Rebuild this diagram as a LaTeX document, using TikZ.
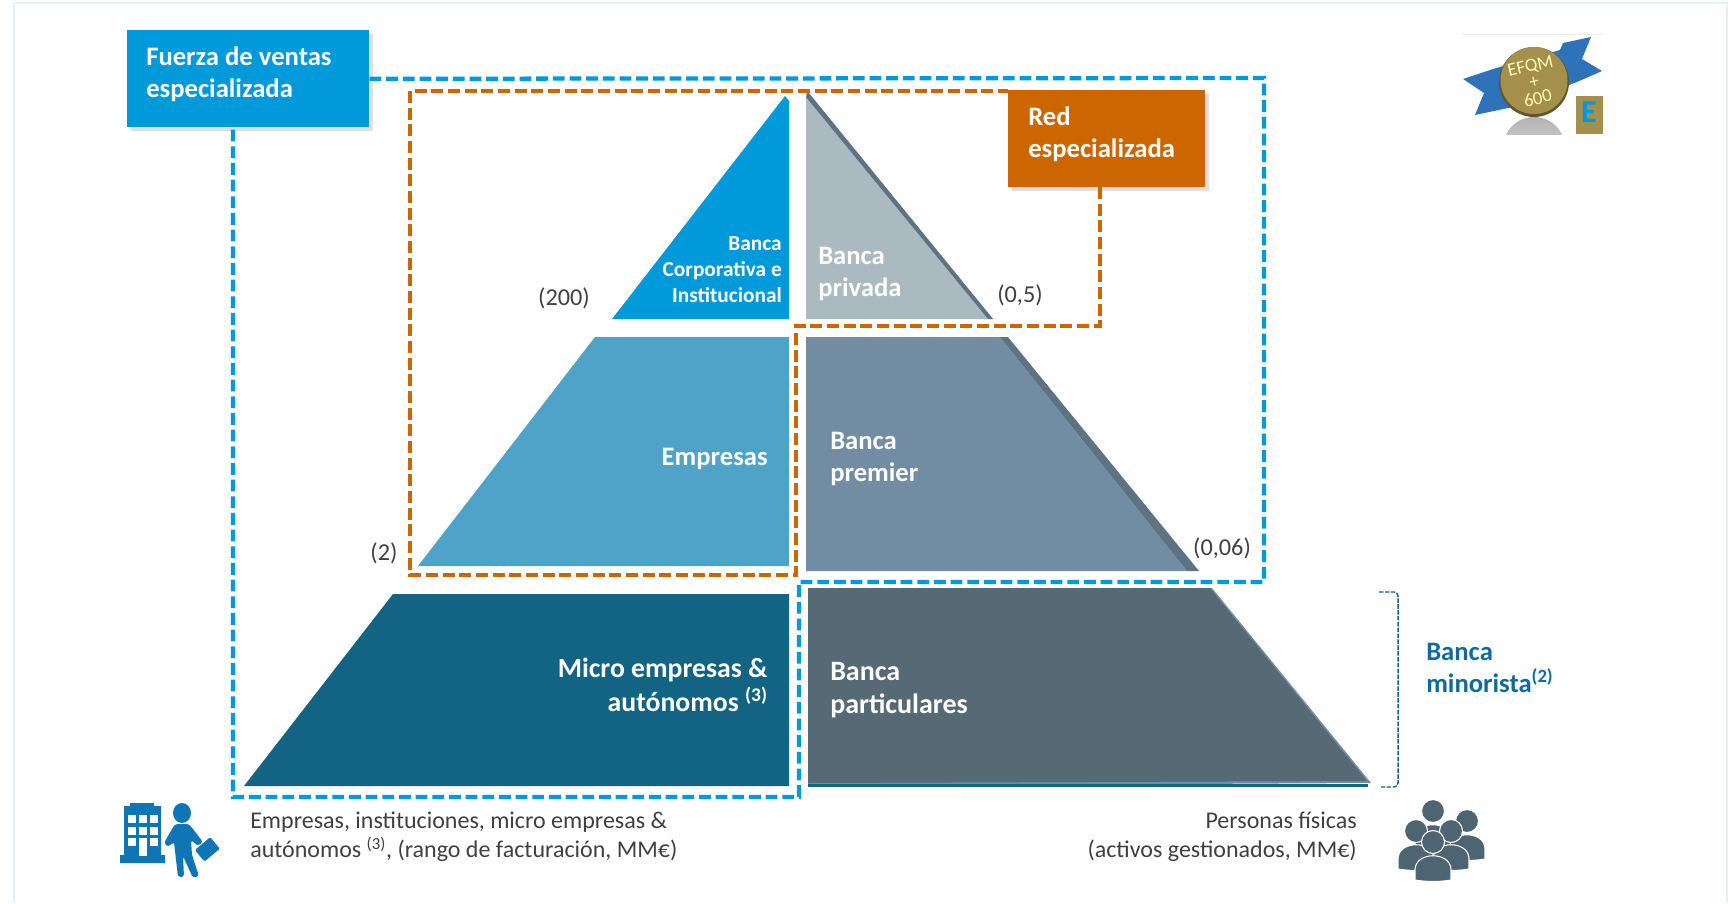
\documentclass[tikz,border=0pt]{standalone}
\usepackage{fontspec}
\setmainfont{Carlito}
\usetikzlibrary{shadows,shapes.geometric}
\definecolor{ventasblue}{HTML}{009ADA}
\definecolor{redorange}{HTML}{CC6600}
\definecolor{empresablue}{HTML}{4FA3C9}
\definecolor{microblue}{HTML}{136385}
\definecolor{privadagray}{HTML}{ABB9C0}
\definecolor{premierblue}{HTML}{718CA3}
\definecolor{partgray}{HTML}{566A75}
\definecolor{edgegray}{HTML}{5D7384}
\definecolor{inkgray}{HTML}{404040}
\definecolor{minorblue}{HTML}{0F6A9F}
\definecolor{iconblue}{HTML}{0F75B5}
\definecolor{icongray}{HTML}{4D6472}
\definecolor{medalgold}{HTML}{A58F4C}
\definecolor{ribbonblue}{HTML}{2E72BA}
\tikzset{
  labelbox/.style  = {rectangle, inner sep=0pt, anchor=north west,
                      drop shadow={shadow xshift=3pt, shadow yshift=-3pt, opacity=.25}},
  boxtext/.style   = {text=white, align=left, anchor=west, inner sep=0pt,
                      font=\fontsize{20}{24}\selectfont\bfseries},
  tiertext/.style  = {boxtext},
  tierright/.style = {boxtext, align=right, anchor=east},
  amount/.style    = {text=inkgray, inner sep=0pt, font=\fontsize{18.2}{22}\selectfont},
  axistext/.style  = {amount, anchor=west, align=left, font=\fontsize{18}{21.5}\selectfont},
  medaltext/.style = {inner sep=0pt, align=center, text=yellow!30!white, font=\fontsize{14}{12.4}\selectfont},
  dashframe/.style = {line width=3.2pt, line join=miter, dash pattern=on 8.9pt off 3.6pt}
}
\begin{document}
\begin{tikzpicture}[x=0.75pt,y=-0.75pt]
  \useasboundingbox (0,0) rectangle (1734,903);
  \draw[line width=1.5pt, color=ventasblue!12] (14,903) -- (14,3) -- (1727,3) -- (1727,903);

  % left half of the pyramid
  \fill[ventasblue]  (785,96) -- (789,101) -- (789,319) -- (612,319) -- cycle;
  \fill[empresablue] (595,337) -- (789,337) -- (789,566) -- (418,566) -- cycle;
  \fill[microblue]   (393,594) -- (789,594) -- (789,786) -- (244,786) -- cycle;

  % right half of the pyramid
  \fill[privadagray] (806,92) -- (808,92) -- (993,319) -- (806,319) -- cycle;
  \fill[edgegray]    (808,92) -- (993,319) -- (988,319) -- (806,97) -- cycle;
  \fill[premierblue] (806,337) -- (1000,337) -- (1187,571) -- (806,571) -- cycle;
  \fill[edgegray]    (1000,337) -- (1008,337) -- (1199,571) -- (1187,571) -- cycle;
  \fill[premierblue] (808,588) -- (1212,588) -- (1371,783) -- (808,786) -- cycle;
  \fill[partgray]    (808,588) -- (1210,588) -- (1367,781) -- (808,783) -- cycle;
  \fill[microblue]   (808,783.5) rectangle (1368,786.5);

  \node[labelbox, fill=ventasblue, minimum width=242*0.75pt, minimum height=97*0.75pt] (fuerza) at (127,30) {};
  \node[labelbox, fill=redorange, minimum width=197*0.75pt, minimum height=97*0.75pt] (red) at (1008,90) {};
  \coordinate (fuerzaend) at (233,127);
  \coordinate (redend) at (1100,187);

  \draw[dashframe, ventasblue] (fuerza.east) -- (1264,78) -- (1264,582) -- (799,582) -- (799,797)
    -- (233,797) -- (fuerzaend);
  \draw[dashframe, redorange] (redend) -- (1100,326) -- (796,326) -- (796,575) -- (410,575)
    -- (410,91) -- (red.west |- 0,91);
  \draw[microblue, line width=1.1pt, dash pattern=on 3.4pt off 1pt, rounded corners=3pt]
    (1379,592) -- (1398,592) -- (1398,787) -- (1381,787);

  \node[boxtext] (fuerzatext) at (146,74) {Fuerza de ventas\\especializada};
  \node[boxtext] (redtext) at (1028,134.5) {Red\\especializada};

  \node[tierright, font=\fontsize{16}{19.5}\selectfont\bfseries] (corporativa) at (782,269.5) {Banca\\Corporativa e\\Institucional};
  \node[tiertext, text=white] (privada) at (818,274) {Banca\\privada};
  \node[tierright] (empresas) at (768,459) {Empresas};
  \node[tiertext] (premier) at (830,459) {Banca\\premier};
  \node[tierright, font=\fontsize{20.8}{25}\selectfont\bfseries] (micro) at (768,685) {Micro empresas \&\\aut\'onomos \textsuperscript{(3)}};
  \node[tiertext, font=\fontsize{21}{25}\selectfont\bfseries] (particulares) at (830,690) {Banca\\particulares};
  \node[tiertext, text=minorblue] (minorista) at (1426,668) {Banca\\minorista\textsuperscript{(2)}};

  \node[amount] (v200) at (564,298) {(200)};
  \node[amount] (v05) at (1020,295) {(0,5)};
  \node[amount] (v2) at (384,553) {(2)};
  \node[amount] (v006) at (1222,548) {(0,06)};
  \node[axistext] (axisleft) at (250,837) {Empresas, instituciones, micro empresas \&\\aut\'onomos \textsuperscript{(3)}, (rango de facturaci\'on, MM€)};
  \node[axistext, align=right, anchor=east] (axisright) at (1357,837) {Personas f\'isicas\\(activos gestionados, MM€)};

  % company and person icon
  \fill[iconblue] (120,855) rectangle (165,863) (124,806) rectangle (161,855) (130,803) rectangle (154,806);
  \fill[white] (139,838) rectangle (147,856);
  \foreach \wx in {128,139,149.5}
    \foreach \wy in {815,826.5,838}
      \fill[white] (\wx,\wy) rectangle +(8,8);
  \fill[iconblue] (182,813) ellipse [x radius=9, y radius=10];
  \fill[iconblue, rounded corners=2pt] (175,824) -- (189,824) -- (203,842) -- (198,846) -- (191,840)
    -- (192,855) -- (199,876) -- (193,878) -- (183,856) -- (184,877) -- (178,877) -- (174,842)
    -- (168,847) -- (164,843) -- cycle;
  \fill[iconblue, rotate around={40:(207,849)}, rounded corners=1pt] (197,842) rectangle (217,857);

  % group of people
  \foreach \hx/\hy in {1433/811,1467/821,1416/831,1451/831,1433/842} {
    \begin{scope}[shift={(\hx,\hy)}]
      \filldraw[icongray, draw=white, line width=0.8pt] (-18,38) -- (-18,28)
        .. controls (-18,9) and (18,9) .. (18,28) -- (18,38) .. controls (6,40) and (-6,40) .. (-18,38);
      \filldraw[icongray, draw=white, line width=0.8pt] (0,0) circle [radius=11.5];
    \end{scope}
  }

  % medal
  \draw[gray!15, line width=.5pt] (1462,34) -- (1603,34);
  \fill[ribbonblue] (1463,79) -- (1493,69) -- (1560,50) -- (1563,43) -- (1591,37)
    -- (1582,59) -- (1602,71) -- (1577,82) -- (1513,107) -- (1475,115) -- (1484,93) -- cycle;
  \begin{scope}
    \clip (1460,100) rectangle (1603,134);
    \shade[top color=black!30, bottom color=black!8] (1534,148) circle [radius=31];
  \end{scope}
  \fill[medalgold!60!black] (1534,82) circle [radius=35];
  \fill[medalgold] (1534,80.5) circle [radius=33.5];
  \node[medaltext, rotate=13] (efqm) at (1534,82) {EFQM\\+\\600};
  \fill[medalgold] (1576,96) rectangle (1603,134);
  \node[inner sep=0pt, text=ventasblue, font=\fontsize{24}{24}\selectfont\bfseries] (bigE) at (1589,112) {E};
\end{tikzpicture}
\end{document}
